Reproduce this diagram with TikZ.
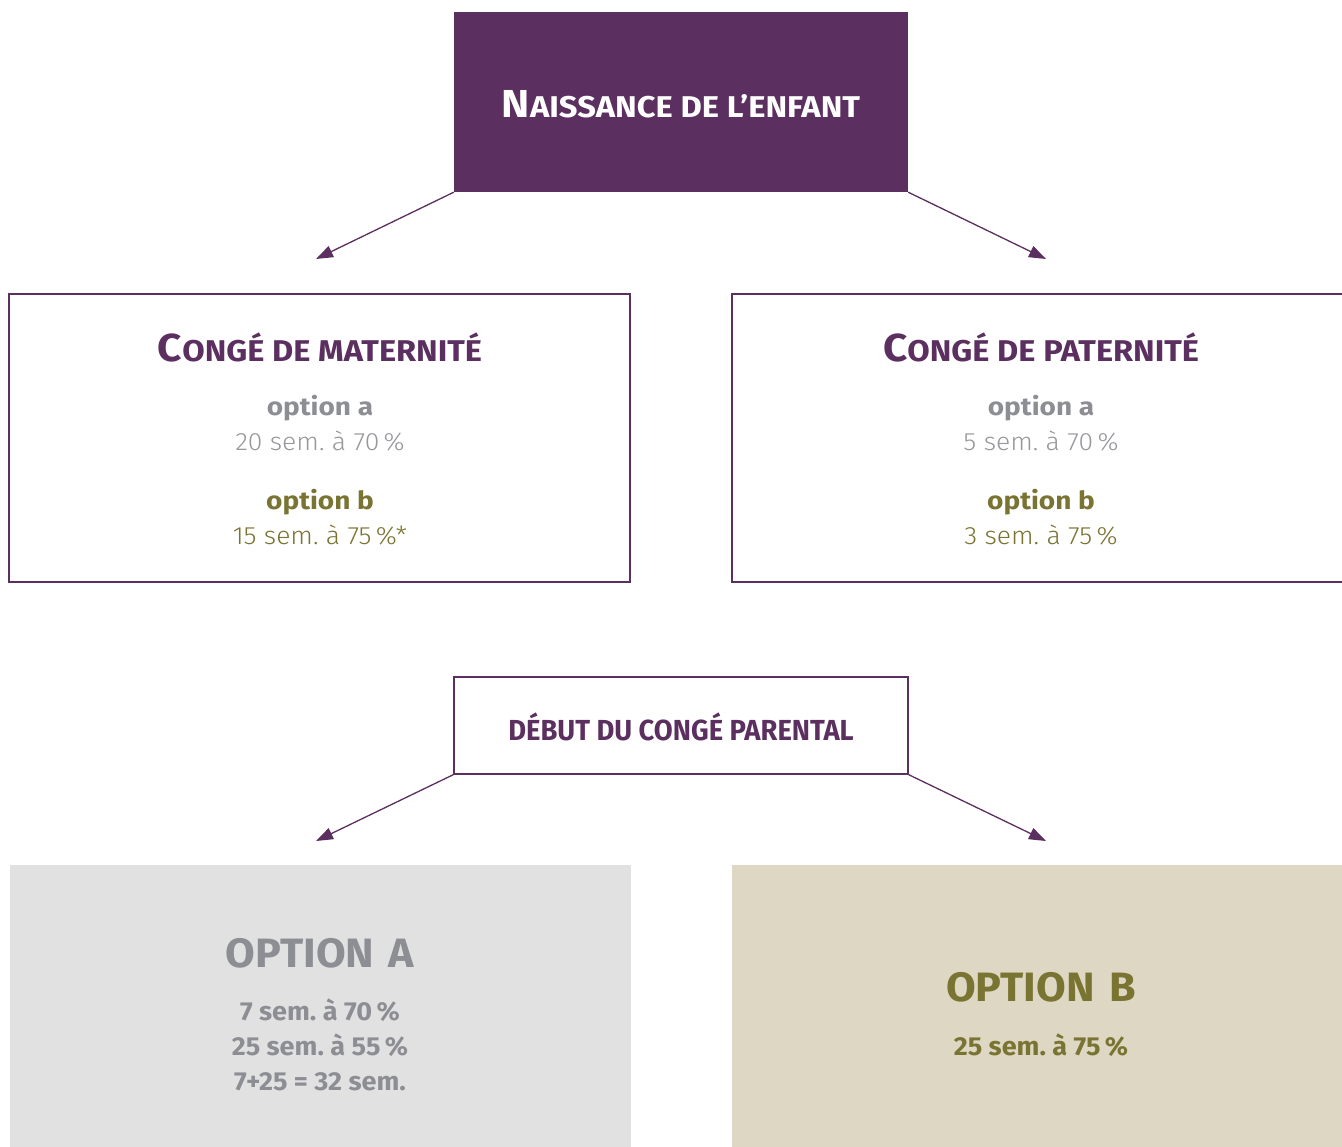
\documentclass[tikz,border=0pt]{standalone}
\usepackage{fontspec}
\setmainfont{Fira Sans}
\newfontfamily\lightfont{Fira Sans Light}
\usetikzlibrary{arrows.meta}
\definecolor{plum}{HTML}{5B2F5F}
\definecolor{greytxt}{HTML}{8C8E93}
\definecolor{lgreytxt}{HTML}{96989C}
\definecolor{olive}{HTML}{7A7433}
\definecolor{greyfill}{HTML}{E1E1E1}
\definecolor{beige}{HTML}{DDD7C3}
\frenchspacing
\newcommand{\sct}[2]{{\fontsize{39}{39}\selectfont #1}{\fontsize{30}{30}\selectfont #2}}
\tikzset{
  frame/.style={draw=plum, line width=1.3pt, inner sep=0pt},
  link/.style={draw=plum, line width=1.3pt, -{Triangle[length=17pt,width=12pt]}},
  txt/.style={anchor=base, inner sep=0pt},
  optlbl/.style={txt, font=\bfseries\fontsize{25}{25}\selectfont},
  optval/.style={txt, font=\lightfont\fontsize{25}{25}\selectfont},
  bigopt/.style={txt, font=\bfseries\fontsize{41}{41}\selectfont},
  optline/.style={txt, font=\bfseries\fontsize{26}{26}\selectfont},
}
\begin{document}
\begin{tikzpicture}[x=1pt,y=-1pt]
\clip (0,0) rectangle (1342,1147);
\fill[white] (0,0) rectangle (1342,1147);
% boxes
\node[inner sep=0pt, fill=plum, minimum width=454pt, minimum height=180pt] (top) at (681,102) {};
\node[frame, minimum width=621pt, minimum height=288pt] (mat) at (319.5,438) {};
\node[frame, minimum width=616pt, minimum height=288pt] (pat) at (1040,438) {};
\node[frame, minimum width=454pt, minimum height=97pt] (deb) at (681,725.5) {};
\node[inner sep=0pt, fill=greyfill, minimum width=621pt, minimum height=290pt] (optA) at (320.5,1010) {};
\node[inner sep=0pt, fill=beige, minimum width=616pt, minimum height=290pt] (optB) at (1040,1010) {};
% connectors
\coordinate (aL) at (316,259);
\coordinate (aR) at (1046,259);
\coordinate (bL) at (316,841);
\coordinate (bR) at (1046,841);
\draw[link] (top.south west) -- (aL);
\draw[link] (top.south east) -- (aR);
\draw[link] (deb.south west) -- (bL);
\draw[link] (deb.south east) -- (bR);
% texts
\node[txt, text=white, font=\bfseries] (topt) at (681,118) {\scalebox{1.09}[1]{\sct{N}{AISSANCE DE L’ENFANT}}};
\node[txt, text=plum, font=\bfseries] (matt) at (320,362) {\scalebox{1.085}[1]{\sct{C}{ONGÉ DE MATERNITÉ}}};
\node[txt, text=plum, font=\bfseries] (patt) at (1041,362) {\scalebox{1.085}[1]{\sct{C}{ONGÉ DE PATERNITÉ}}};
\node[optlbl, text=greytxt] (mata) at (320,416) {\scalebox{1.12}[1]{option a}};
\node[optval, text=lgreytxt] (matav) at (320,451) {\scalebox{1.06}[1]{20 sem. à 70\,\%}};
\node[optlbl, text=olive] (matb) at (320,509) {\scalebox{1.12}[1]{option b}};
\node[optval, text=olive] (matbv) at (320,544) {\scalebox{1.06}[1]{15 sem. à 75\,\%*}};
\node[optlbl, text=greytxt] (pata) at (1041,416) {\scalebox{1.12}[1]{option a}};
\node[optval, text=lgreytxt] (patav) at (1041,451) {\scalebox{1.06}[1]{5 sem. à 70\,\%}};
\node[optlbl, text=olive] (patb) at (1041,509) {\scalebox{1.12}[1]{option b}};
\node[optval, text=olive] (patbv) at (1041,544) {\scalebox{1.06}[1]{3 sem. à 75\,\%}};
\node[txt, text=plum, font=\bfseries\fontsize{29}{29}\selectfont] (debt) at (681,740) {\scalebox{0.945}[1]{DÉBUT DU CONGÉ PARENTAL}};
\node[bigopt, text=greytxt] (optAt) at (320,967) {\scalebox{1.05}[1]{OPTION\hspace{4pt} A}};
\node[optline, text=greytxt] (optA1) at (320,1020) {\scalebox{1.04}[1]{7 sem. à 70\,\%}};
\node[optline, text=greytxt] (optA2) at (320,1055) {\scalebox{1.04}[1]{25 sem. à 55\,\%}};
\node[optline, text=greytxt] (optA3) at (320,1090) {\scalebox{1.04}[1]{7+25 = 32 sem.}};
\node[bigopt, text=olive] (optBt) at (1041,1001) {\scalebox{1.05}[1]{OPTION\hspace{4pt} B}};
\node[optline, text=olive] (optB1) at (1041,1055) {\scalebox{1.04}[1]{25 sem. à 75\,\%}};
\end{tikzpicture}
\end{document}
